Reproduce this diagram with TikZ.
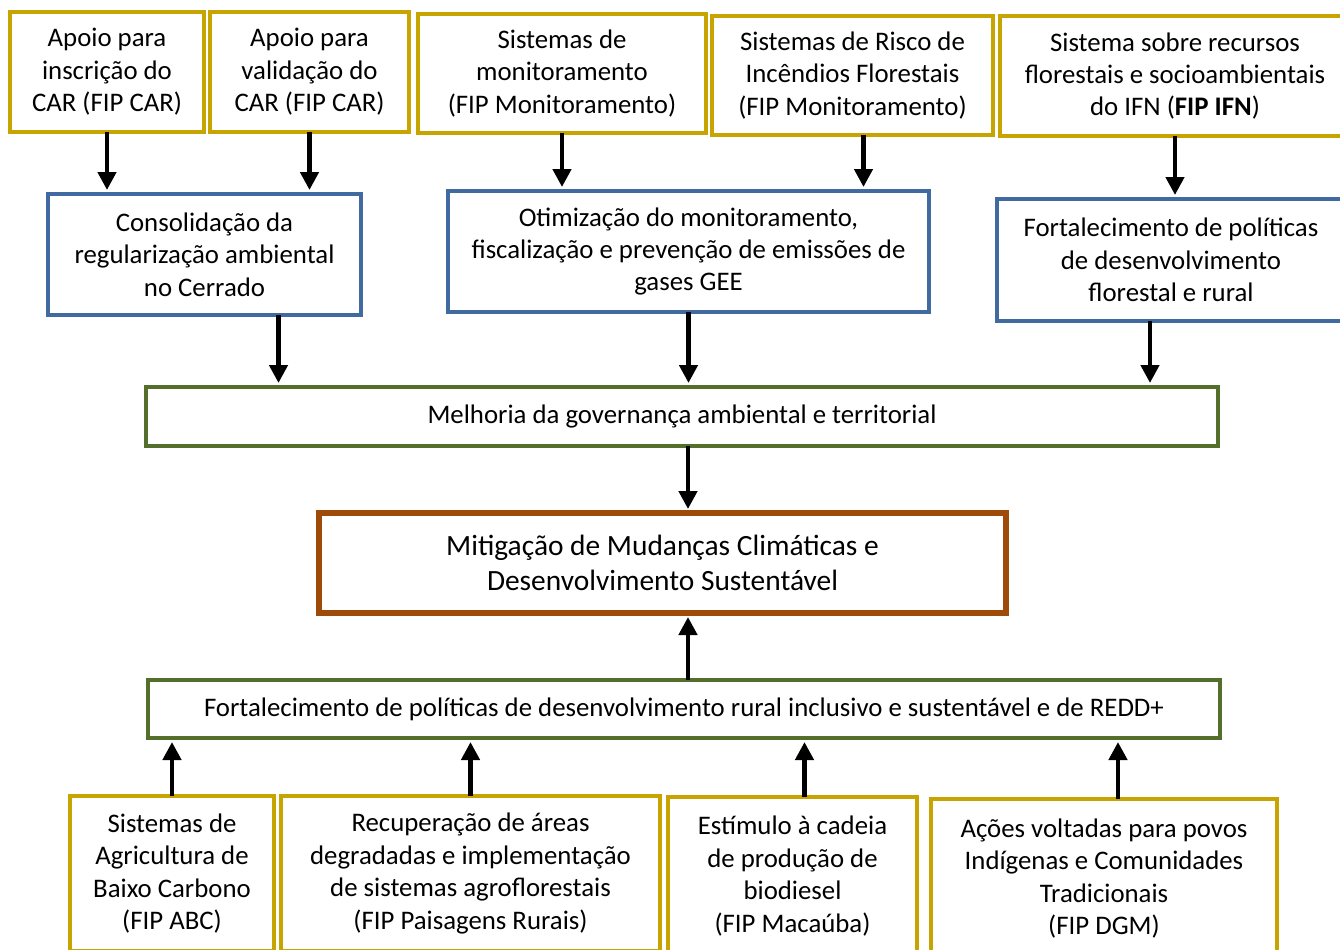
\documentclass[tikz,border=0pt]{standalone}
\usepackage{fontspec}
\setmainfont{Carlito}
\usetikzlibrary{arrows.meta}
\definecolor{fipgold}{RGB}{200,164,0}
\definecolor{fipblue}{RGB}{65,107,160}
\definecolor{fipgreen}{RGB}{84,110,44}
\definecolor{fipbrown}{RGB}{158,74,8}
\tikzset{every fip node/.style={draw,align=center,inner sep=1mm,outer sep=0pt,font=\fontsize{13.4pt}{16.2pt}\selectfont}}
\tikzset{fip/.style={every fip node,draw=fipgold,line width=1.8pt}}
\tikzset{goal/.style={every fip node,draw=fipblue,line width=1.6pt}}
\tikzset{axis/.style={every fip node,draw=fipgreen,line width=2.2pt}}
\tikzset{impact/.style={every fip node,draw=fipbrown,line width=3.2pt,font=\fontsize{14.7pt}{17.5pt}\selectfont}}
\tikzset{flow/.style={-{Triangle[length=9pt,width=9pt]},line width=2.2pt,shorten >=2pt}}

\begin{document}
\begin{tikzpicture}[x=0.5pt,y=-0.5pt]
                    \useasboundingbox (0,0) rectangle (1340,949);
                    %\draw[help lines] (0,0) grid[step=100] (1340,949);

                    % projetos FIP (topo)
                    \node[fip, minimum width=97pt, minimum height=60pt] at (107,72) (t1){Apoio para\\inscrição do\\CAR (FIP CAR)};
                    \node[fip, minimum width=99.5pt, minimum height=60pt] at (309.5,72) (t2){Apoio para\\validação do\\CAR (FIP CAR)};
                    \node[fip, minimum width=144pt, minimum height=59.5pt] at (562,73.5) (t3){Sistemas de\\monitoramento\\(FIP Monitoramento)};
                    \node[fip, minimum width=140.5pt, minimum height=59.5pt] at (852.5,75.5) (t4){Sistemas de Risco de\\Incêndios Florestais\\(FIP Monitoramento)};
                    \node[fip, minimum width=175pt, minimum height=60pt] at (1175,76) (t5){Sistema sobre recursos\\florestais e socioambientais\\do IFN (\textbf{FIP IFN})};

                    % objetivos
                    \node[goal, minimum width=156.5pt, minimum height=60.5pt] at (204.5,254.5) (b1){Consolidação da\\regularização ambiental\\no Cerrado};
                    \node[goal, minimum width=240.5pt, minimum height=60.5pt] at (688.5,251.5) (b2){Otimização do monitoramento,\\fiscalização e prevenção de emissões de\\gases GEE};
                    \node[goal, minimum width=174pt, minimum height=61pt] at (1171,260) (b3){Fortalecimento de políticas\\de desenvolvimento\\florestal e rural};

                    % eixos e impacto
                    \node[axis, minimum width=536pt, minimum height=29.5pt] at (682,416.5) (g1){Melhoria da governança ambiental e territorial};
                    \node[impact, minimum width=343.5pt, minimum height=50pt] at (662.5,563) (mitig){Mitigação de Mudanças Climáticas e\\Desenvolvimento Sustentável};
                    \node[axis, minimum width=536pt, minimum height=29pt] at (684,709) (g2){Fortalecimento de políticas de desenvolvimento rural inclusivo e sustentável e de REDD+};

                    % projetos FIP (base)
                    \node[fip, minimum width=102pt, minimum height=77.5pt] at (172,873.5) (d1){Sistemas de\\Agricultura de\\Baixo Carbono\\(FIP ABC)};
                    \node[fip, minimum width=189.5pt, minimum height=77.5pt] at (470.5,873.5) (d2){Recuperação de áreas\\degradadas e implementação\\de sistemas agroflorestais\\(FIP Paisagens Rurais)};
                    \node[fip, minimum width=124.5pt, minimum height=79pt] at (792.5,876) (d3){Estímulo à cadeia\\de produção de\\biodiesel\\(FIP Macaúba)};
                    \node[fip, minimum width=173pt, minimum height=79.5pt] at (1104,878.5) (d4){Ações voltadas para povos\\Indígenas e Comunidades\\Tradicionais\\(FIP DGM)};

                    \coordinate (a4) at ([xshift=5.5pt]t4.south);
                    \coordinate (ab1) at ([xshift=37pt]b1.south);
                    \coordinate (ab3) at ([xshift=-10.5pt]b3.south);
                    \coordinate (ag1) at ([xshift=3pt]g1.south);
                    \coordinate (ag2) at ([xshift=2pt]g2.north);
                    \coordinate (ad3) at ([xshift=6pt]d3.north);
                    \coordinate (ad4) at ([xshift=7pt]d4.north);

                    \path[flow] (t1.south) edge (t1.south |- b1.north);
                    \path[flow] (t2.south) edge (t2.south |- b1.north);
                    \path[flow] (t3.south) edge (t3.south |- b2.north);
                    \path[flow] (a4) edge (a4 |- b2.north);
                    \path[flow] (t5.south) edge (t5.south |- b3.north);

                    \path[flow] (ab1) edge (ab1 |- g1.north);
                    \path[flow] (b2.south) edge (b2.south |- g1.north);
                    \path[flow] (ab3) edge (ab3 |- g1.north);

                    \path[flow] (ag1) edge (ag1 |- mitig.north);
                    \path[flow] (ag2) edge (ag2 |- mitig.south);

                    \path[flow] (d1.north) edge (d1.north |- g2.south);
                    \path[flow] (d2.north) edge (d2.north |- g2.south);
                    \path[flow] (ad3) edge (ad3 |- g2.south);
                    \path[flow] (ad4) edge (ad4 |- g2.south);

                \end{tikzpicture}
\end{document}
